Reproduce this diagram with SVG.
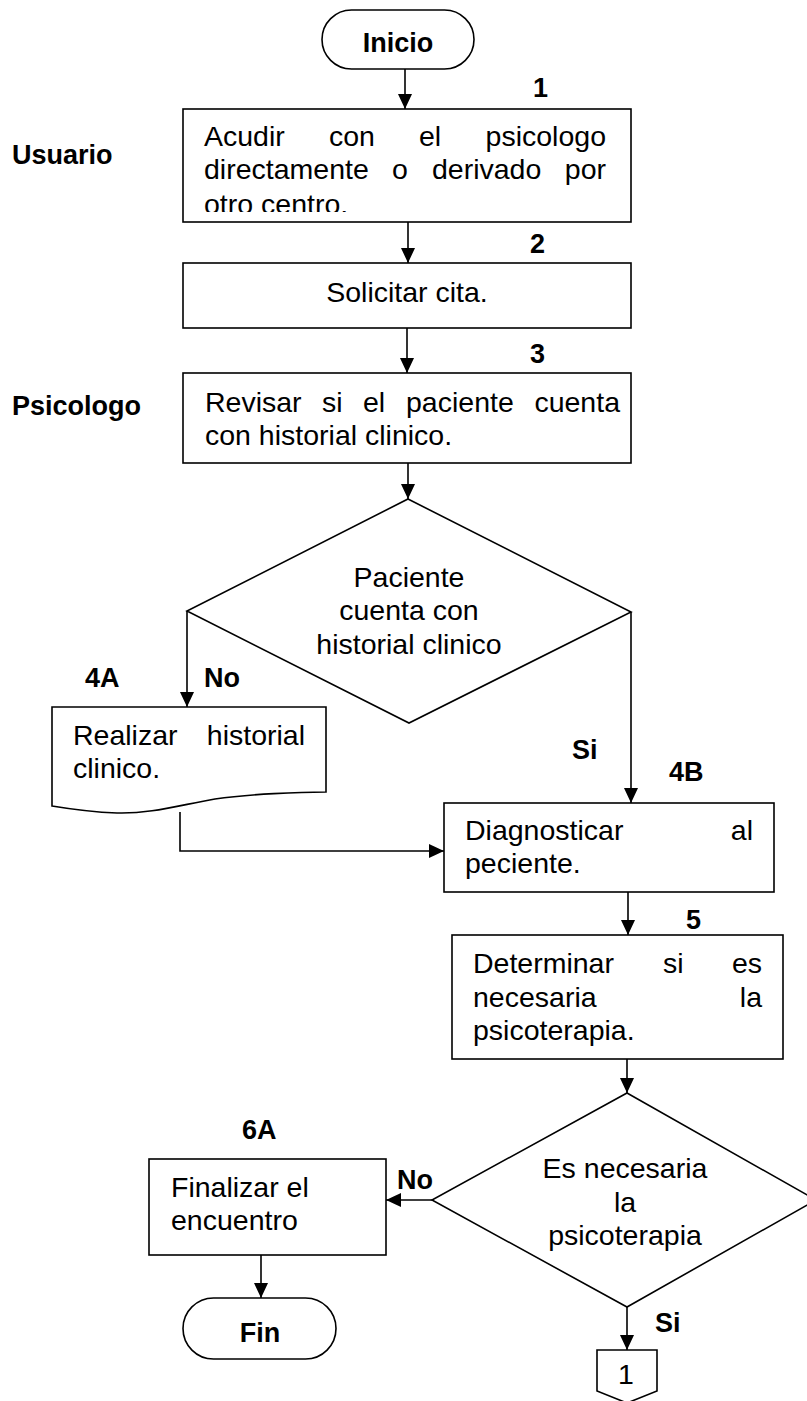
<svg xmlns="http://www.w3.org/2000/svg" width="807" height="1401" viewBox="0 0 807 1401">
<style>
.s{fill:#fff;stroke:#000;stroke-width:1.6}
.t{font-family:"Liberation Sans",Arial,sans-serif;font-size:28.5px;fill:#000}
.b{font-family:"Liberation Sans",Arial,sans-serif;font-size:27px;font-weight:bold;fill:#000}
.c{fill:none;stroke:#000;stroke-width:1.6}
</style>
<defs>
<marker id="arr" markerWidth="15" markerHeight="14" refX="15" refY="7" orient="auto" markerUnits="userSpaceOnUse"><path d="M0,0 L15,7 L0,14 z" fill="#000"/></marker>
<clipPath id="clip1"><rect x="183" y="109" width="448" height="103"/></clipPath>
</defs>
<rect width="807" height="1401" fill="#fff"/>

<g id="lanes">
<text class="b" x="12" y="164" font-size="26">Usuario</text>
<text class="b" x="12" y="415" font-size="26">Psicologo</text>
</g>

<g id="connectors">
<line class="c" x1="405" y1="69" x2="405" y2="109" marker-end="url(#arr)"/>
<line class="c" x1="408" y1="222" x2="408" y2="263" marker-end="url(#arr)"/>
<line class="c" x1="407" y1="328" x2="407" y2="373" marker-end="url(#arr)"/>
<line class="c" x1="408" y1="463" x2="408" y2="499" marker-end="url(#arr)"/>
<polyline class="c" points="187,611 187,707" marker-end="url(#arr)"/>
<polyline class="c" points="631,612 631,803" marker-end="url(#arr)"/>
<polyline class="c" points="180,812 180,851 444,851" marker-end="url(#arr)"/>
<line class="c" x1="628" y1="892" x2="628" y2="935" marker-end="url(#arr)"/>
<line class="c" x1="627" y1="1059" x2="627" y2="1093" marker-end="url(#arr)"/>
<line class="c" x1="432" y1="1200" x2="386" y2="1200" marker-end="url(#arr)"/>
<line class="c" x1="261" y1="1255" x2="261" y2="1298" marker-end="url(#arr)"/>
<line class="c" x1="627" y1="1307" x2="627" y2="1350" marker-end="url(#arr)"/>
<text class="b" x="204" y="687">No</text>
<text class="b" x="572" y="759">Si</text>
<text class="b" x="397" y="1189">No</text>
<text class="b" x="655" y="1332">Si</text>
</g>

<g id="inicio">
<rect class="s" x="322" y="10" width="152" height="59" rx="29.5"/>
<text class="b" x="398" y="52" text-anchor="middle" font-size="28">Inicio</text>
</g>

<g id="step1">
<text class="b" x="533" y="97">1</text>
<rect class="s" x="183" y="109" width="448" height="113"/>
<g clip-path="url(#clip1)">
<text class="t" y="146"><tspan x="204">Acudir</tspan><tspan x="329">con</tspan><tspan x="419">el</tspan><tspan x="606" text-anchor="end">psicologo</tspan></text>
<text class="t" y="179"><tspan x="204">directamente</tspan><tspan x="392">o</tspan><tspan x="432">derivado</tspan><tspan x="606" text-anchor="end">por</tspan></text>
<text class="t" x="204" y="214">otro centro.</text>
</g>
</g>

<g id="step2">
<text class="b" x="530" y="253">2</text>
<rect class="s" x="183" y="263" width="448" height="65"/>
<text class="t" x="407" y="302" text-anchor="middle">Solicitar cita.</text>
</g>

<g id="step3">
<text class="b" x="530" y="363">3</text>
<rect class="s" x="183" y="373" width="448" height="90"/>
<text class="t" y="412"><tspan x="205">Revisar</tspan><tspan x="322">si</tspan><tspan x="363">el</tspan><tspan x="406">paciente</tspan><tspan x="620" text-anchor="end">cuenta</tspan></text>
<text class="t" x="205" y="445">con historial clinico.</text>
</g>

<g id="decision1">
<polygon class="s" points="408,499 631,612 409,723 187,611"/>
<text class="t" x="409" y="587" text-anchor="middle">Paciente</text>
<text class="t" x="409" y="620" text-anchor="middle">cuenta con</text>
<text class="t" x="409" y="654" text-anchor="middle">historial clinico</text>
</g>

<g id="step4A">
<text class="b" x="85" y="687">4A</text>
<path class="s" d="M52,707 H326 V792 C300,792 250,794 215,799 C180,805 150,814 117,813 C90,812 70,809 52,806 Z"/>
<text class="t" y="745"><tspan x="73">Realizar</tspan><tspan x="305" text-anchor="end">historial</tspan></text>
<text class="t" x="73" y="778">clinico.</text>
</g>

<g id="step4B">
<text class="b" x="669" y="781">4B</text>
<rect class="s" x="444" y="803" width="330" height="89"/>
<text class="t" y="840"><tspan x="465">Diagnosticar</tspan><tspan x="753" text-anchor="end">al</tspan></text>
<text class="t" x="465" y="873">peciente.</text>
</g>

<g id="step5">
<text class="b" x="686" y="929">5</text>
<rect class="s" x="452" y="935" width="331" height="124"/>
<text class="t" y="973"><tspan x="473">Determinar</tspan><tspan x="663">si</tspan><tspan x="762" text-anchor="end">es</tspan></text>
<text class="t" y="1007"><tspan x="473">necesaria</tspan><tspan x="762" text-anchor="end">la</tspan></text>
<text class="t" x="473" y="1040">psicoterapia.</text>
</g>

<g id="decision2">
<polygon class="s" points="627,1093 816,1200 627,1307 432,1200"/>
<text class="t" x="625" y="1178" text-anchor="middle">Es necesaria</text>
<text class="t" x="625" y="1212" text-anchor="middle">la</text>
<text class="t" x="625" y="1245" text-anchor="middle">psicoterapia</text>
</g>

<g id="step6A">
<text class="b" x="242" y="1139">6A</text>
<rect class="s" x="149" y="1159" width="237" height="96"/>
<text class="t" x="171" y="1197">Finalizar el</text>
<text class="t" x="171" y="1230">encuentro</text>
</g>

<g id="fin">
<rect class="s" x="183" y="1298" width="153" height="61" rx="30.5"/>
<text class="b" x="260" y="1342" text-anchor="middle" font-size="28">Fin</text>
</g>

<g id="offpage">
<polygon class="s" points="597,1350 657,1350 657,1391 627,1403 597,1391"/>
<text class="t" x="626" y="1384" text-anchor="middle" font-size="26">1</text>
</g>
</svg>
